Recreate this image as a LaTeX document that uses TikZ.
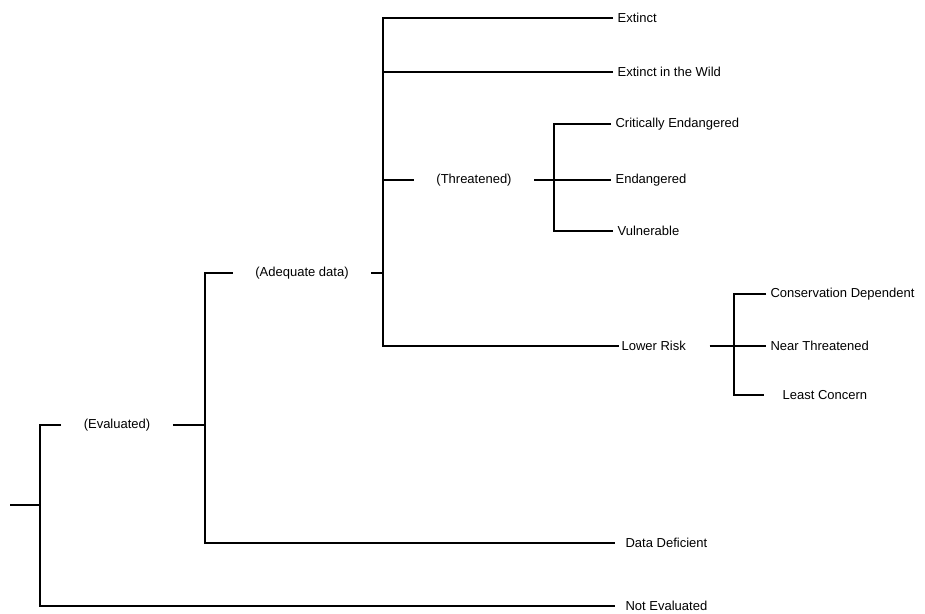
\documentclass[tikz,border=0pt]{standalone}
\usepackage{fontspec}
\setmainfont{Liberation Sans}
\begin{document}
\begin{tikzpicture}[x=1pt,y=-1pt,every path/.style={line width=1.2pt},
  every node/.style={font=\fontsize{13}{15}\selectfont},
  leaf/.style={anchor=west,inner xsep=4pt},
  group/.style={inner xsep=22pt}]
\useasboundingbox (0,0) rectangle (925,613);
\coordinate                 (root) at (10,505);
\coordinate                 (j0)   at (40,505);
\node[group]                (eval) at (117,425) {(Evaluated)};
\coordinate                 (j1)   at (205,425);
\node[group]                (adq)  at (302,273) {(Adequate data)};
\coordinate                 (j2)   at (383,273);
\node[group]                (thr)  at (474,180) {(Threatened)};
\coordinate                 (j3)   at (554,180);
\node[leaf,inner xsep=2pt]  (lr)   at (619,346) {Lower Risk};
\coordinate                 (j4)   at (734,346);
\node[leaf]                 (ex)   at (613,18)  {Extinct};
\node[leaf]                 (ew)   at (613,72)  {Extinct in the Wild};
\node[leaf]                 (ce)   at (611,124) {Critically Endangered};
\node[leaf]                 (en)   at (611,180) {Endangered};
\node[leaf]                 (vu)   at (613,231) {Vulnerable};
\node[leaf]                 (cd)   at (766,294) {Conservation Dependent};
\node[leaf]                 (nt)   at (766,346) {Near Threatened};
\node[leaf,inner xsep=18pt] (lc)   at (764,395) {Least Concern};
\node[leaf,inner xsep=10pt] (dd)   at (615,543) {Data Deficient};
\node[leaf,inner xsep=10pt] (ne)   at (615,606) {Not Evaluated};
\draw (root) -- (j0);
\draw (eval.west) -| (j0) |- (ne.west);
\draw (eval.east) -- (j1);
\draw (adq.west) -| (j1) |- (dd.west);
\draw (adq.east) -- (j2);
\draw (ex.west) -| (j2) |- (lr.west);
\draw (ew.west) -- (ew.west -| j2);
\draw (thr.west) -- (thr.west -| j2);
\draw (thr.east) -- (j3);
\draw (ce.west) -| (j3) |- (vu.west);
\draw (j3) -- (en.west);
\draw ([xshift=21pt]lr.east) -- (j4);
\draw (cd.west) -| (j4) |- (lc.west);
\draw (j4) -- (nt.west);
\end{tikzpicture}
\end{document}
